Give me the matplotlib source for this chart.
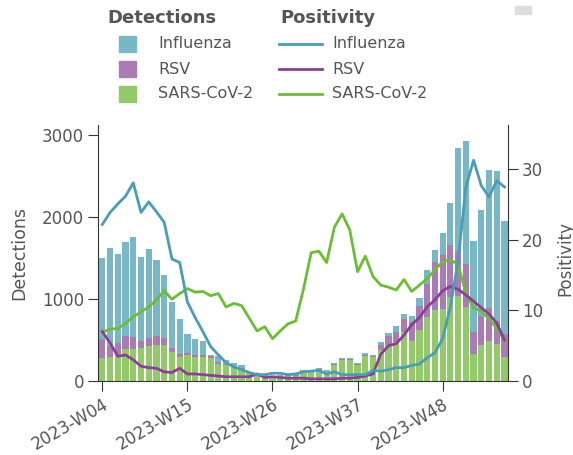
import numpy as np
import matplotlib
matplotlib.use("Agg")
import matplotlib.pyplot as plt
from matplotlib.patches import Rectangle
from matplotlib.lines import Line2D

# weekly values, 2023-W04 .. 2024-W04
weeks = np.arange(53)
tick_idx = [0, 11, 22, 33, 44]
tick_labels = ["2023-W04", "2023-W15", "2023-W26", "2023-W37", "2023-W48"]

total_det = [1497, 1625, 1549, 1691, 1755, 1513, 1610, 1480, 1286, 967,
             753, 576, 510, 490, 321, 305, 260, 224, 191, 110,
             90, 79, 62, 79, 79, 95, 131, 139, 159, 139,
             224, 285, 285, 224, 337, 321, 470, 579, 676, 818,
             789, 1012, 1355, 1594, 1807, 2171, 2837, 2930, 1706, 2090,
             2575, 2563, 1949]
sars_det = [285, 292, 313, 385, 385, 401, 426, 434, 434, 353,
            292, 313, 292, 292, 285, 212, 200, 171, 151, 103,
            79, 62, 50, 50, 55, 65, 111, 120, 139, 110,
            200, 260, 260, 200, 305, 292, 373, 434, 474, 595,
            482, 616, 777, 870, 879, 1019, 1030, 900, 333, 434,
            482, 454, 292]
rsv_det = [225, 130, 150, 160, 150, 90, 100, 110, 90, 50,
           40, 30, 25, 20, 15, 15, 12, 10, 8, 5,
           5, 5, 3, 3, 3, 5, 5, 5, 5, 5,
           10, 10, 10, 8, 16, 15, 61, 112, 121, 162,
           234, 303, 400, 582, 660, 640, 560, 520, 262, 355,
           404, 283, 284]
flu_det = [t - s - r for t, s, r in zip(total_det, sars_det, rsv_det)]

flu_pos = [22.2, 23.9, 25.1, 26.2, 28.1, 23.9, 25.4, 24.0, 22.5, 17.3,
           16.8, 11.2, 9.0, 7.0, 4.9, 3.7, 2.6, 2.0, 1.6, 1.2,
           0.9, 0.9, 1.1, 1.1, 0.9, 1.0, 1.3, 1.4, 1.5, 1.0,
           1.3, 0.9, 0.9, 0.9, 0.9, 1.5, 1.4, 1.6, 1.9, 1.9,
           2.2, 2.4, 3.3, 4.0, 6.0, 10.5, 17.0, 27.5, 31.3, 27.7,
           26.1, 28.4, 27.5]
rsv_pos = [7.0, 5.4, 3.5, 3.7, 3.0, 2.1, 1.9, 1.8, 1.3, 1.2,
           1.8, 1.0, 1.0, 0.9, 0.8, 0.7, 0.6, 0.6, 0.6, 0.6,
           1.0, 0.5, 0.6, 0.5, 0.4, 0.4, 0.4, 0.3, 0.3, 0.3,
           0.3, 0.4, 0.4, 0.5, 0.7, 1.0, 3.8, 5.0, 5.3, 6.5,
           8.0, 9.0, 10.5, 11.5, 12.8, 13.4, 13.0, 12.2, 11.3, 10.4,
           9.5, 8.2, 5.8]
sars_pos = [6.9, 7.4, 7.4, 8.2, 9.1, 9.8, 10.5, 11.5, 12.8, 11.6,
            12.4, 13.1, 12.6, 12.7, 12.1, 12.4, 10.5, 11.0, 10.7, 8.9,
            7.1, 7.7, 6.0, 7.1, 8.1, 8.5, 13.0, 18.2, 18.4, 16.8,
            21.8, 23.7, 21.4, 15.5, 17.7, 14.8, 13.6, 13.3, 12.9, 14.4,
            12.7, 13.6, 14.5, 15.8, 16.9, 17.2, 16.5, 12.5, 10.4, 9.9,
            8.8, 7.5, 5.7]

c_flu_bar, c_rsv_bar, c_sars_bar = "#7ab7c6", "#a97cb4", "#93c96b"
c_flu_line, c_rsv_line, c_sars_line = "#4a9db2", "#8b3f96", "#6cbd35"
grey = "#555555"
dark = "#333333"

fig = plt.figure(figsize=(5.73, 4.55), dpi=100)
W, H = 573.0, 455.0
ax = fig.add_axes([98 / W, 74 / H, 410 / W, 256 / H])

bw = 0.8
ax.bar(weeks, sars_det, width=bw, color=c_sars_bar, linewidth=0)
ax.bar(weeks, rsv_det, width=bw, bottom=sars_det, color=c_rsv_bar, linewidth=0)
bot = [s + r for s, r in zip(sars_det, rsv_det)]
ax.bar(weeks, flu_det, width=bw, bottom=bot, color=c_flu_bar, linewidth=0)

ax.set_xlim(-0.56, 52.45)
ax.set_ylim(0, 3120)
ax.set_yticks([0, 1000, 2000, 3000])
ax.set_xticks(tick_idx)
ax.set_xticklabels(tick_labels, rotation=30, ha="right", rotation_mode="anchor")

ax2 = ax.twinx()
ax2.plot(weeks, sars_pos, color=c_sars_line, lw=2)
ax2.plot(weeks, rsv_pos, color=c_rsv_line, lw=2)
ax2.plot(weeks, flu_pos, color=c_flu_line, lw=2)
ax2.set_ylim(0, 36.3)
ax2.set_yticks([0, 10, 20, 30])

for a in (ax, ax2):
    a.spines["top"].set_visible(False)
    for s in ("left", "right", "bottom"):
        a.spines[s].set_color(dark)
    a.tick_params(direction="out", length=7, color=dark, labelcolor=grey,
                  labelsize=12, pad=3)
ax.spines["right"].set_visible(False)
ax2.spines["left"].set_visible(False)
ax2.spines["bottom"].set_visible(False)

ax.set_ylabel("Detections", fontsize=12.5, color=grey)
ax.yaxis.set_label_coords(-0.171, 0.5)
ax2.set_ylabel("Positivity", fontsize=12, color=grey, rotation=90)
ax2.yaxis.set_label_coords(1.117, 0.48)

# legend drawn by hand at top
def fx(px):
    return px / W

def fy(py):
    return 1 - py / H

fig.text(fx(107), fy(18), "Detections", fontsize=13, fontweight="bold",
         color=grey, va="center")
fig.text(fx(280), fy(18), "Positivity", fontsize=13, fontweight="bold",
         color=grey, va="center")
names = ["Influenza", "RSV", "SARS-CoV-2"]
bars_c = [c_flu_bar, c_rsv_bar, c_sars_bar]
lines_c = [c_flu_line, c_rsv_line, c_sars_line]
for i, (n, bc, lc) in enumerate(zip(names, bars_c, lines_c)):
    yc = 44 + 25 * i
    fig.patches.append(Rectangle((fx(119), fy(yc + 8)), 17 / W, 16 / H,
                                 transform=fig.transFigure, color=bc))
    fig.text(fx(158), fy(yc), n, fontsize=11.5, color=grey, va="center")
    fig.lines.append(Line2D([fx(279), fx(322)], [fy(yc), fy(yc)],
                            transform=fig.transFigure, color=lc, lw=2))
    fig.text(fx(332), fy(yc), n, fontsize=11.5, color=grey, va="center")

# small grey mark at top right
fig.patches.append(Rectangle((fx(515), fy(13.5)), 16 / W, 7 / H,
                             transform=fig.transFigure, color="#dddddd"))

fig.savefig("out.png", dpi=100)
